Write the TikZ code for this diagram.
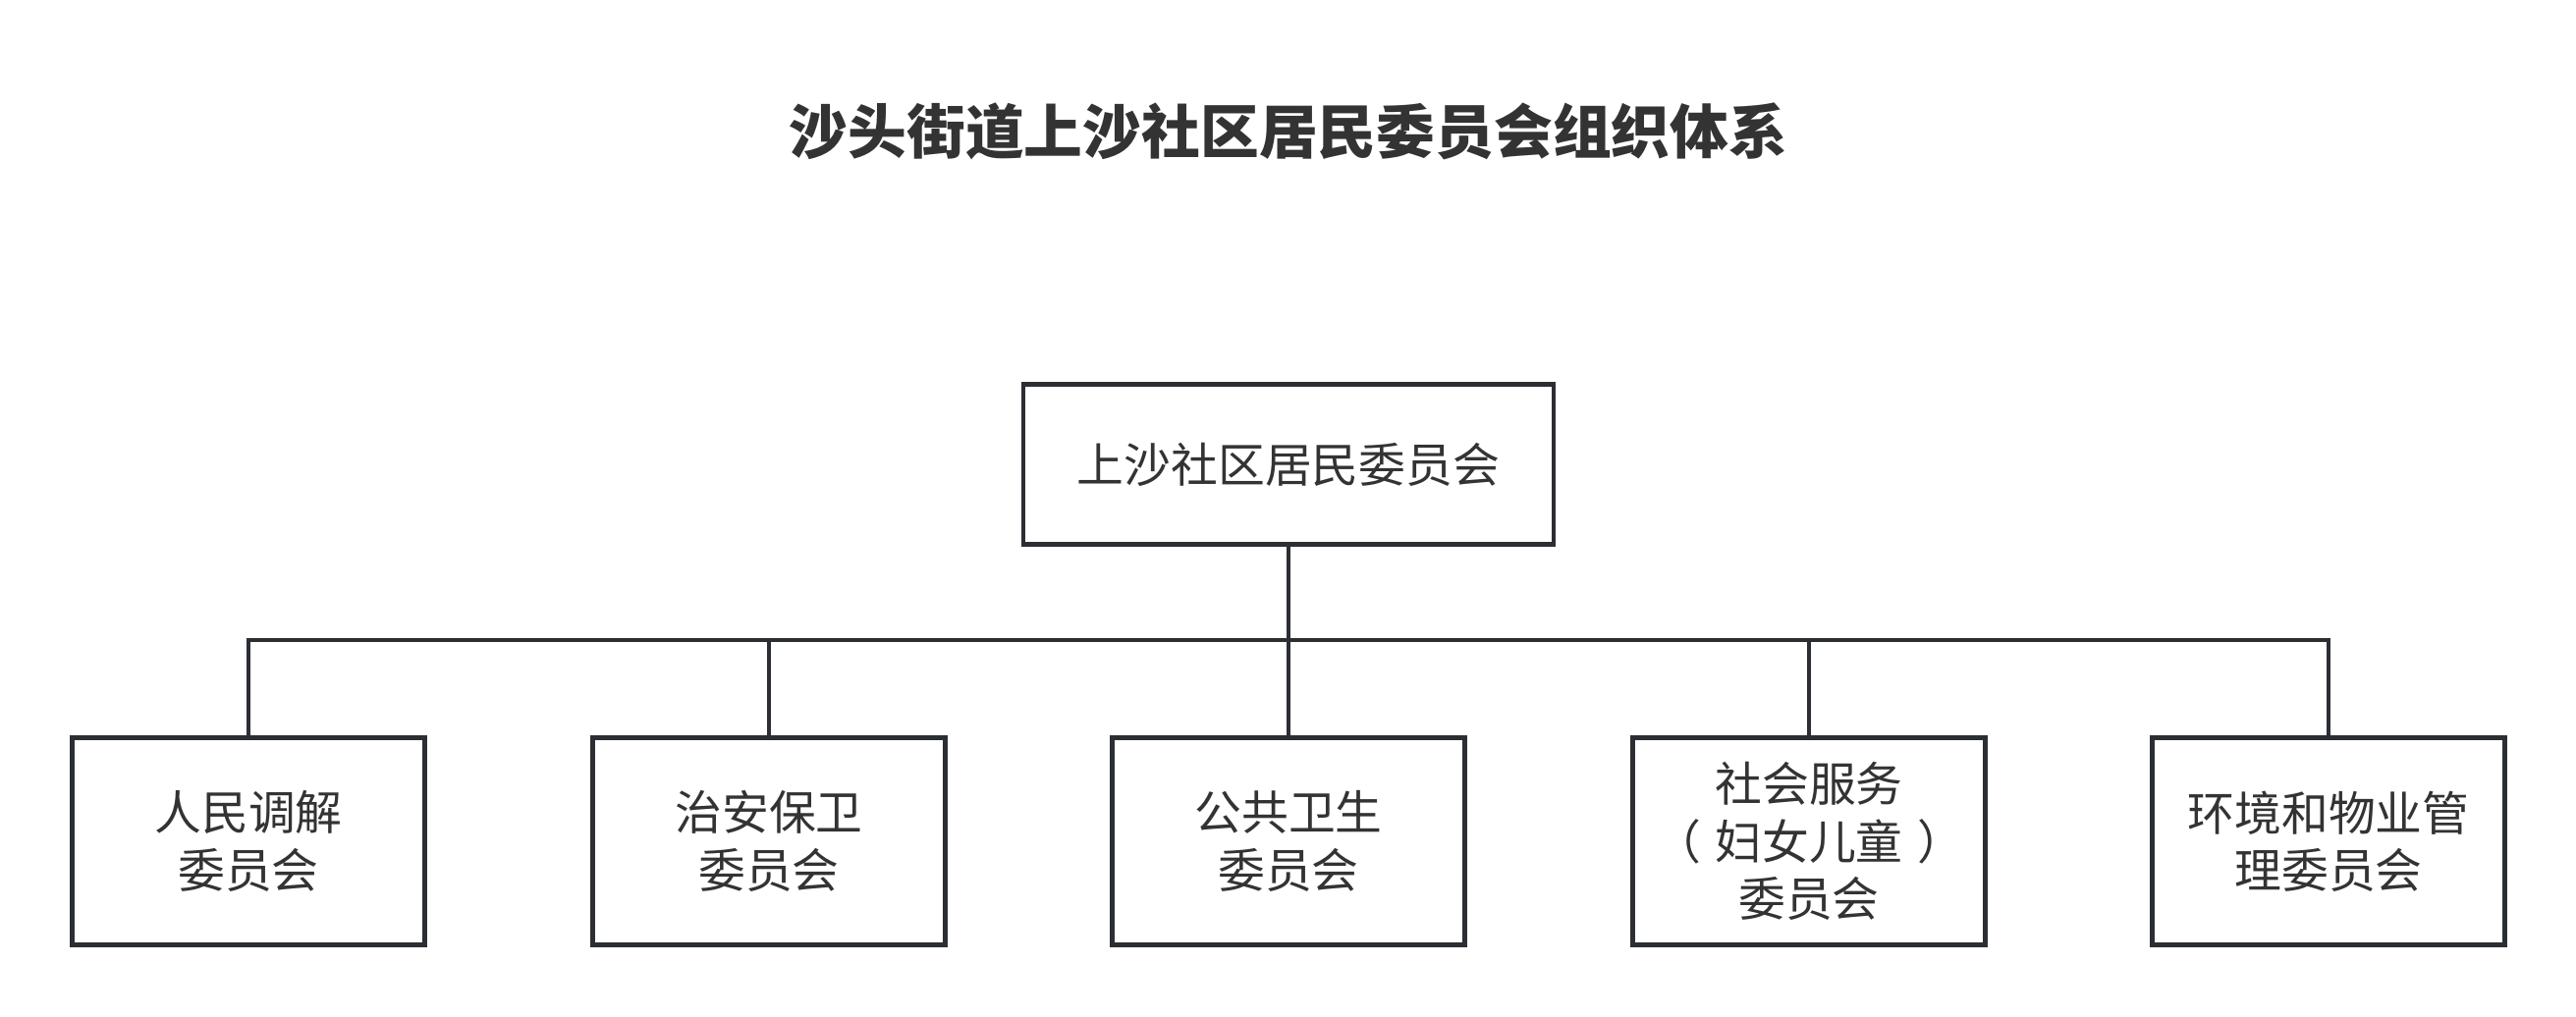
\documentclass[tikz,border=0pt]{standalone}
\usepackage{fontspec}
\setmainfont{Noto Sans CJK SC}
\definecolor{inkline}{HTML}{2B2F33}
\definecolor{inktext}{HTML}{333333}
\tikzset{
  orgbox/.style={draw=inkline, line width=1.3pt, align=center, inner sep=0pt,
    text=inktext, font=\fontsize{13.6pt}{16.6pt}\selectfont},
  unitbox/.style={orgbox, minimum width=3.59cm, minimum height=2.11cm},
  link/.style={draw=inkline, line width=1pt}
}
\begin{document}
\begin{tikzpicture}[x=0.01cm, y=-0.01cm]
    \useasboundingbox (0,0) rectangle (2623,1036);

    \node[text=inktext, font=\fontsize{17pt}{20pt}\selectfont\bfseries] (title) at (1312,134)
      {沙头街道上沙社区居民委员会组织体系};

    \node[orgbox, minimum width=5.40cm, minimum height=1.63cm] (top) at (1312,473)
      {上沙社区居民委员会};

    \node[unitbox] (mediation) at (253,857) {人民调解\\委员会};
    \node[unitbox] (security) at (783,857) {治安保卫\\委员会};
    \node[unitbox] (health) at (1312,857) {公共卫生\\委员会};
    \node[unitbox] (service) at (1842,857)
      {社会服务\\（\hspace{0.3em}妇女儿童\hspace{0.3em}）\\委员会};
    \node[unitbox] (estate) at (2371,857) {环境和物业管\\理委员会};

    \coordinate (bus) at (1312,652);

    \draw[link]
    (top.south) -- (bus)
    (mediation.north) |- (bus) -| (estate.north)
    (security.north) -- (security.north |- bus)
    (health.north) -- (bus)
    (service.north) -- (service.north |- bus);
\end{tikzpicture}
\end{document}
